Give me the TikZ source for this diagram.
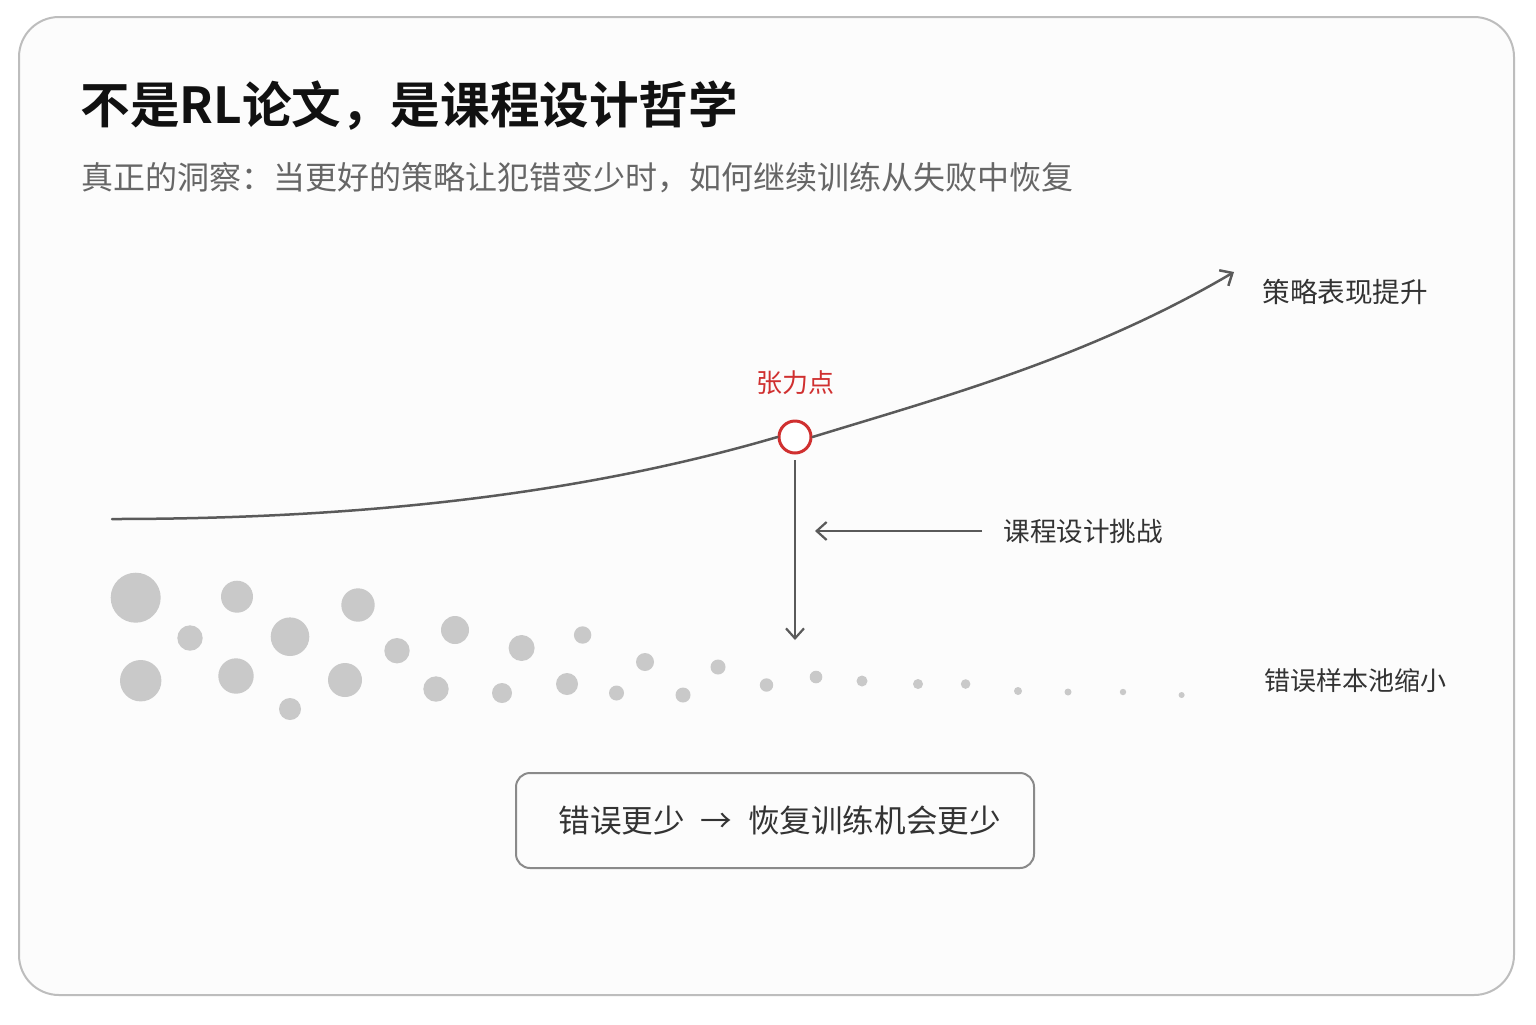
\documentclass[tikz,border=0pt]{standalone}
\usepackage{fontspec}
\setmainfont{Noto Sans CJK SC}
\newfontfamily\titlefont{Noto Sans CJK SC}[UprightFont=* Bold]
\usetikzlibrary{arrows.meta}
\definecolor{framecol}{HTML}{BDBDBD}
\definecolor{bgcol}{HTML}{FCFCFC}
\definecolor{titlecol}{HTML}{111111}
\definecolor{subcol}{HTML}{666666}
\definecolor{labcol}{HTML}{333333}
\definecolor{linecol}{HTML}{5A5A5A}
\definecolor{dotcol}{HTML}{C9C9C9}
\definecolor{redcol}{HTML}{D03030}
\definecolor{boxcol}{HTML}{8A8A8A}
\tikzset{
  lab/.style={inner sep=0pt, text=labcol, font=\fontsize{13pt}{15pt}\selectfont},
  curveline/.style={draw=linecol, line width=1.25pt, line cap=round},
  arr/.style={draw=linecol, line width=1.1pt, -{Straight Barb[length=5pt,width=9pt,line width=1.1pt]}},
  dot/.style={fill=dotcol},
}
\begin{document}
\begin{tikzpicture}[x=0.5pt,y=-0.5pt]
\useasboundingbox (0,0) rectangle (1536,1024);
\fill[white] (0,0) rectangle (1536,1024);
\draw[draw=framecol, fill=bgcol, line width=1pt, rounded corners=20pt] (19,17) rectangle (1514,995);

% title and subtitle
\node[anchor=west, inner sep=0pt, text=titlecol, font=\fontsize{24.8pt}{30pt}\titlefont] (title) at (80,106) {不是RL论文，是课程设计哲学};
\node[anchor=west, inner sep=0pt, text=subcol, font=\fontsize{16pt}{20pt}\selectfont] (sub) at (81,178) {真正的洞察：当更好的策略让犯错变少时，如何继续训练从失败中恢复};

% curve
\coordinate (cstart) at (112,519);
\coordinate (cend) at (1234,272);
\node[circle, draw=redcol, fill=white, line width=1.5pt, minimum size=32pt*0.5, inner sep=0pt] (tp) at (795,437) {};
\draw[curveline] (cstart) .. controls (340,519) and (567,498.6) .. (tp.west);
\draw[curveline, -{Straight Barb[length=5pt,width=9pt,line width=1.25pt]}] (tp.east) .. controls (941,397.5) and (1088,358) .. (cend);

\node[inner sep=0pt, text=redcol, font=\fontsize{13pt}{15pt}\selectfont] (tplab) at (795,383) {张力点};
\node[lab, anchor=west, font=\fontsize{13.8pt}{16pt}\selectfont] (perf) at (1262,292) {策略表现提升};

% vertical arrow
\coordinate (vdown) at (795,640);
\draw[arr] (795,460) -- (vdown);

% horizontal arrow with label
\node[lab, anchor=west, font=\fontsize{13.3pt}{16pt}\selectfont] (chal) at (1003,531) {课程设计挑战};
\coordinate (hstart) at (982,531);
\coordinate (hend) at (815,531);
\draw[arr] (hstart) -- (hend);

% dots
\foreach \x/\y/\r in {
 135.7/597.7/25, 237/596.7/16, 190/638/12.7, 290/636.7/19.3, 358/605/16.7,
 140.7/680.7/20.7, 236/676/17.7, 290/709/11, 345/680/17, 397/650.7/12.7,
 455/630/14, 436/689/12.7, 521.6/648/13, 502/693/10, 582.6/635/8.7,
 567/684/11, 645/662/9, 616.5/693/7.5, 683/695/7.5, 718/667/7.5,
 766.5/685/6.7, 816/677/6.3, 862/681/5.5, 918/684/5, 965.6/684/4.8,
 1018/691/4, 1068/692/3.5, 1123/692/3.2, 1181.6/695/3}
 \fill[dot] (\x,\y) circle[radius=\r*0.5pt];

\node[lab, anchor=west] (pool) at (1264,681) {错误样本池缩小};

% bottom box
\node[draw=boxcol, line width=1pt, rounded corners=7pt, minimum width=259pt, minimum height=47.5pt, inner sep=0pt, text=labcol, font=\fontsize{15.8pt}{19pt}\selectfont] (box) at (775,820.5) {\hspace{0.3em}错误更少\hspace{0.5em}→\hspace{0.5em}恢复训练机会更少};
\end{tikzpicture}
\end{document}
